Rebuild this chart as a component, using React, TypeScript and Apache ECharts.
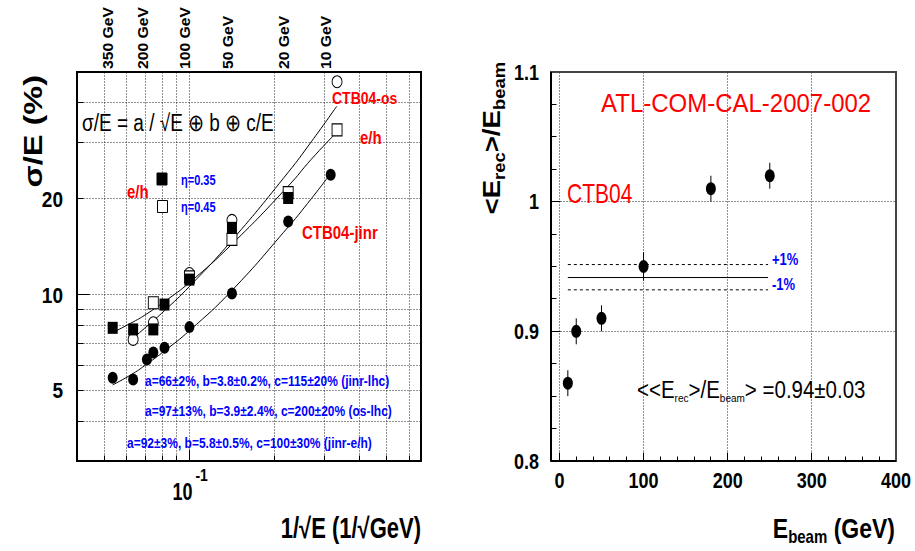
import React, { useEffect, useRef } from "react";
import * as echarts from "echarts";

// ---------------- Left panel: sigma/E (%) vs 1/sqrt(E) ----------------
// CTB04-jinr (filled circles)
const jinrX = [0.0535, 0.0632, 0.0707, 0.0745, 0.0816, 0.1, 0.1414, 0.2236, 0.3162];
const jinrY = [5.48, 5.41, 6.25, 6.57, 6.81, 7.9, 10.07, 16.97, 23.8];
// e/h eta=0.35 (filled squares)
const eh35X = [0.0535, 0.0632, 0.0745, 0.0816, 0.1, 0.1414, 0.2236];
const eh35Y = [7.86, 7.77, 7.77, 9.3, 11.14, 16.2, 20.1];
// e/h eta=0.45 (open squares)
const eh45X = [0.0745, 0.1, 0.1414, 0.2236, 0.333];
const eh45Y = [9.42, 11.36, 14.9, 20.9, 32.9];
// CTB04-os (open circles)
const osX = [0.0632, 0.0745, 0.1, 0.1414, 0.333];
const osY = [7.23, 8.15, 11.64, 17.1, 46.6];

// fitted curves
const osFitX = [0.0632, 0.0707, 0.0816, 0.1, 0.1414, 0.2236, 0.27, 0.332];
const osFitY = [7.3, 7.95, 8.9, 10.6, 14.8, 24.2, 30.2, 39.0];
const ehFitX = [0.0535, 0.0632, 0.0707, 0.0816, 0.1, 0.1414, 0.2236, 0.27, 0.3228];
const ehFitY = [7.6, 8.2, 8.7, 9.5, 10.9, 14.4, 21.9, 26.6, 31.5];
const jinrFitX = [0.0535, 0.0632, 0.0707, 0.0816, 0.1, 0.1414, 0.2236, 0.27, 0.3162];
const jinrFitY = [5.2, 5.65, 6.05, 6.65, 7.7, 10.3, 16.3, 20.0, 24.0];

// left axes
const leftXRange = [0.04, 0.66];
const leftYRange = [3, 50];
const leftXGrid = [0.05, 0.06, 0.07, 0.08, 0.09, 0.1, 0.2, 0.3, 0.4, 0.5, 0.6];
const leftYGrid = [4, 5, 6, 7, 8, 9, 10, 20, 30, 40];
const leftYLabels = [5, 10, 20];
const topEnergies = [350, 200, 100, 50, 20, 10];

const fitTexts = [
  "a=66±2%, b=3.8±0.2%, c=115±20% (jinr-lhc)",
  "a=97±13%, b=3.9±2.4%, c=200±20% (os-lhc)",
  "a=92±3%, b=5.8±0.5%, c=100±30% (jinr-e/h)",
];

// ---------------- Right panel: <Erec>/Ebeam vs Ebeam ----------------
const beamE = [10, 20, 50, 100, 180, 250];
const response = [0.86, 0.9, 0.91, 0.95, 1.01, 1.02];
const responseErr = [0.01, 0.01, 0.01, 0.011, 0.01, 0.01];
const bandX = [10, 248];
const bandMean = 0.9415;
const bandUp = 0.9515;
const bandDown = 0.932;

const rightXRange = [-10, 400];
const rightYRange = [0.8, 1.1];
const rightXMajor = [0, 100, 200, 300, 400];
const rightXLabels = ["0", "100", "200", "300", "400"];
const rightXMinor = [20, 40, 60, 80, 120, 140, 160, 180, 220, 240, 260, 280, 320, 340, 360, 380];
const rightYMajor = [0.8, 0.9, 1.0, 1.1];
const rightYLabels = ["0.8", "0.9", "1", "1.1"];
const rightYMinor = [0.825, 0.85, 0.875, 0.925, 0.95, 0.975, 1.025, 1.05, 1.075];

const FONT = '"Liberation Sans", Arial, Helvetica, sans-serif';
const fnt = (size: number, bold = false) => `${bold ? "bold " : ""}${size}px ${FONT}`;
const RED = "#ff0000";
const BLUE = "#0000ff";

function txt(x: number, y: number, s: string, size: number, o: any = {}) {
  const align = o.align || "left";
  const va = o.va || "middle";
  return {
    type: "text",
    x,
    y,
    z: 20,
    silent: true,
    scaleX: o.sx || 1,
    scaleY: o.sy || 1,
    rotation: o.rot || 0,
    style: {
      text: s,
      font: fnt(size, !!o.bold),
      fill: o.color || "#000",
      align,
      textAlign: align,
      verticalAlign: va,
      textVerticalAlign: va,
      lineHeight: o.lh,
      rich: o.rich,
    },
  };
}

function seg(x1: number, y1: number, x2: number, y2: number, o: any = {}) {
  const lw = o.lw || 1;
  const r = (v: number) => (lw % 2 === 1 ? Math.round(v - 0.5) + 0.5 : Math.round(v));
  return {
    type: "line",
    z: o.z ?? 1,
    silent: true,
    shape: { x1: r(x1), y1: r(y1), x2: r(x2), y2: r(y2) },
    style: { stroke: o.color || "#000", lineWidth: lw, lineDash: o.dash },
  };
}

export default function App() {
  const ref = useRef<HTMLDivElement>(null);

  useEffect(() => {
    const chart = echarts.init(ref.current!, null, { renderer: "svg" });
    const ellipse = "path://M0,6.5A5,6.5,0,1,1,10,6.5A5,6.5,0,1,1,0,6.5Z";
    const zip = (xs: number[], ys: number[]) => xs.map((x, i) => [x, ys[i]]);
    const hiddenAxis = { show: false, axisLine: { show: false }, axisTick: { show: false }, axisLabel: { show: false }, splitLine: { show: false } };
    const fitLine = (xs: number[], ys: number[]) => ({
      type: "line",
      xAxisIndex: 0,
      yAxisIndex: 0,
      data: zip(xs, ys),
      smooth: true,
      showSymbol: false,
      symbol: "none",
      silent: true,
      lineStyle: { color: "#000", width: 1 },
      z: 3,
    });
    const bandLine = (y: number, dashed: boolean) => ({
      type: "line",
      xAxisIndex: 1,
      yAxisIndex: 1,
      data: bandX.map((x) => [x, y]),
      symbol: "none",
      silent: true,
      lineStyle: { color: "#000", width: 1, type: dashed ? [3, 3] : "solid" },
      z: 3,
    });

    const option: any = {
      animation: false,
      backgroundColor: "#ffffff",
      grid: [
        { left: 77, top: 72, width: 344, height: 389, outerBoundsMode: "none" },
        { left: 551, top: 72, width: 345, height: 389, outerBoundsMode: "none" },
      ],
      xAxis: [
        { gridIndex: 0, type: "log", logBase: 10, min: leftXRange[0], max: leftXRange[1], ...hiddenAxis },
        { gridIndex: 1, type: "value", min: rightXRange[0], max: rightXRange[1], ...hiddenAxis },
      ],
      yAxis: [
        { gridIndex: 0, type: "log", logBase: 10, min: leftYRange[0], max: leftYRange[1], ...hiddenAxis },
        { gridIndex: 1, type: "value", min: rightYRange[0], max: rightYRange[1], ...hiddenAxis },
      ],
      series: [
        fitLine(osFitX, osFitY),
        fitLine(ehFitX, ehFitY),
        fitLine(jinrFitX, jinrFitY),
        {
          type: "scatter", xAxisIndex: 0, yAxisIndex: 0, data: zip(osX, osY), silent: true,
          symbol: ellipse, symbolSize: [10, 12],
          itemStyle: { color: "#ffffff", borderColor: "#000", borderWidth: 1, opacity: 1 }, z: 4,
        },
        {
          type: "scatter", xAxisIndex: 0, yAxisIndex: 0, data: zip(eh45X, eh45Y), silent: true,
          symbol: "rect", symbolSize: [10, 12],
          itemStyle: { color: "#ffffff", borderColor: "#000", borderWidth: 1, opacity: 1 }, z: 5,
        },
        {
          type: "scatter", xAxisIndex: 0, yAxisIndex: 0, data: zip(eh35X, eh35Y), silent: true,
          symbol: "rect", symbolSize: [10, 12],
          itemStyle: { color: "#000", opacity: 1 }, z: 6,
        },
        {
          type: "scatter", xAxisIndex: 0, yAxisIndex: 0, data: zip(jinrX, jinrY), silent: true,
          symbol: ellipse, symbolSize: [10, 12],
          itemStyle: { color: "#000", opacity: 1 }, z: 6,
        },
        bandLine(bandUp, true),
        bandLine(bandMean, false),
        bandLine(bandDown, true),
        {
          type: "custom", xAxisIndex: 1, yAxisIndex: 1, silent: true, z: 4,
          data: beamE.map((e, i) => [e, response[i] - responseErr[i], response[i] + responseErr[i]]),
          renderItem: (_p: any, api: any) => {
            const a = api.coord([api.value(0), api.value(1)]);
            const b = api.coord([api.value(0), api.value(2)]);
            return {
              type: "line",
              shape: { x1: a[0], y1: a[1], x2: b[0], y2: b[1] },
              style: { stroke: "#000", lineWidth: 1 },
            };
          },
        },
        {
          type: "scatter", xAxisIndex: 1, yAxisIndex: 1, data: zip(beamE, response), silent: true,
          symbol: ellipse, symbolSize: [10, 13],
          itemStyle: { color: "#000", opacity: 1 }, z: 6,
        },
      ],
    };
    chart.setOption(option);

    const L = (x: number, y: number) => chart.convertToPixel({ gridIndex: 0 }, [x, y]) as number[];
    const R = (x: number, y: number) => chart.convertToPixel({ gridIndex: 1 }, [x, y]) as number[];
    const els: any[] = [];
    const dot = [1, 2];

    // ----- left panel frame, grid, ticks, labels -----
    const lTL = L(leftXRange[0], leftYRange[1]);
    const lBR = L(leftXRange[1], leftYRange[0]);
    leftXGrid.forEach((v) => {
      const p = L(v, leftYRange[0]);
      els.push(seg(p[0], lTL[1], p[0], lBR[1], { dash: dot, color: "#222" }));
      const len = v === 0.1 ? 12 : 6;
      els.push(seg(p[0], lBR[1], p[0], lBR[1] - len, { z: 6 }));
    });
    leftYGrid.forEach((v) => {
      const p = L(leftXRange[0], v);
      els.push(seg(lTL[0], p[1], lBR[0], p[1], { dash: dot, color: "#222" }));
      const len = v === 10 ? 12 : 6;
      els.push(seg(lTL[0], p[1], lTL[0] + len, p[1], { z: 6 }));
    });
    els.push({
      type: "rect", z: 8, silent: true,
      shape: { x: Math.round(lTL[0]), y: Math.round(lTL[1]), width: Math.round(lBR[0] - lTL[0]), height: Math.round(lBR[1] - lTL[1]) },
      style: { fill: "none", stroke: "#000", lineWidth: 2 },
    });
    leftYLabels.forEach((v) => {
      const p = L(leftXRange[0], v);
      els.push(txt(lTL[0] - 14, p[1], String(v), 19, { bold: true, align: "right", sy: 1.15 }));
    });
    {
      const p = L(0.1, leftYRange[0]);
      els.push(txt(p[0] - 7, 492, "10", 18, { bold: true, align: "center", sy: 1.3 }));
      els.push(txt(p[0] + 6, 475, "-1", 14, { bold: true, align: "left", sy: 1.2 }));
    }
    topEnergies.forEach((E) => {
      const p = L(1 / Math.sqrt(E), leftYRange[1]);
      els.push(txt(p[0] - 4, 69, `${E} GeV`, 14, { bold: true, align: "left", rot: Math.PI / 2, sx: 1.12 }));
    });
    // left axis titles
    els.push(txt(33, 75, "σ/E (%)", 25, { bold: true, align: "right", rot: Math.PI / 2, sx: 1.3 }));
    els.push(txt(421, 528, "1/√E (1/√GeV)", 22, { bold: true, align: "right", sy: 1.3 }));
    // left annotations
    els.push(txt(82, 123, "σ/E = a / √E ⊕ b ⊕ c/E", 19, { sy: 1.25 }));
    els.push(txt(332, 98, "CTB04-os", 14, { bold: true, color: RED, sy: 1.2 }));
    els.push(txt(360, 138, "e/h", 15, { bold: true, color: RED, sy: 1.2 }));
    els.push(txt(302, 233, "CTB04-jinr", 15, { bold: true, color: RED, sy: 1.2 }));
    els.push(txt(127, 192.5, "e/h", 15, { bold: true, color: RED, sy: 1.2 }));
    els.push(txt(181, 180, "η=0.35", 11, { bold: true, color: BLUE, sy: 1.3 }));
    els.push(txt(181, 206.5, "η=0.45", 11, { bold: true, color: BLUE, sy: 1.3 }));
    els.push({ type: "rect", z: 9, silent: true, shape: { x: 157, y: 173, width: 10, height: 12 }, style: { fill: "#000", stroke: "#000", lineWidth: 1 } });
    els.push({ type: "rect", z: 9, silent: true, shape: { x: 157.5, y: 200.5, width: 10, height: 12 }, style: { fill: "#fff", stroke: "#000", lineWidth: 1 } });
    els.push(txt(145, 381, fitTexts[0], 12, { bold: true, color: BLUE, sy: 1.2 }));
    els.push(txt(145, 411.5, fitTexts[1], 12, { bold: true, color: BLUE, sy: 1.2 }));
    els.push(txt(127, 443, fitTexts[2], 12, { bold: true, color: BLUE, sy: 1.2 }));

    // ----- right panel frame, grid, ticks, labels -----
    const rTL = R(rightXRange[0], rightYRange[1]);
    const rBR = R(rightXRange[1], rightYRange[0]);
    rightXMajor.forEach((v, i) => {
      const p = R(v, rightYRange[0]);
      if (v < rightXRange[1]) {
        els.push(seg(p[0], rTL[1], p[0], rBR[1], { dash: dot, color: "#222" }));
        els.push(seg(p[0], rBR[1], p[0], rBR[1] - 9, { z: 6 }));
      }
      els.push(txt(p[0], 480, rightXLabels[i], 18, { bold: true, align: "center", sy: 1.2 }));
    });
    rightXMinor.forEach((v) => {
      const p = R(v, rightYRange[0]);
      els.push(seg(p[0], rBR[1], p[0], rBR[1] - 5, { z: 6 }));
    });
    rightYMajor.forEach((v, i) => {
      const p = R(rightXRange[0], v);
      if (v > rightYRange[0] && v < rightYRange[1]) {
        els.push(seg(rTL[0], p[1], rBR[0], p[1], { dash: dot, color: "#222" }));
        els.push(seg(rTL[0], p[1], rTL[0] + 9, p[1], { z: 6 }));
      }
      els.push(txt(rTL[0] - 12, p[1], rightYLabels[i], 18, { bold: true, align: "right", sy: 1.2 }));
    });
    rightYMinor.forEach((v) => {
      const p = R(rightXRange[0], v);
      els.push(seg(rTL[0], p[1], rTL[0] + 5, p[1], { z: 6 }));
    });
    els.push({
      type: "rect", z: 8, silent: true,
      shape: { x: Math.round(rTL[0]), y: Math.round(rTL[1]), width: Math.round(rBR[0] - rTL[0]), height: Math.round(rBR[1] - rTL[1]) },
      style: { fill: "none", stroke: "#444", lineWidth: 2 },
    });
    els.push(seg(rTL[0], rTL[1], rTL[0], rBR[1], { lw: 2, z: 9 }));
    els.push(seg(rTL[0], rBR[1], rBR[0], rBR[1], { lw: 2, z: 9 }));

    // right axis titles
    els.push(
      txt(492, 62, "<E{s|rec}>/E{s|beam}", 24, {
        bold: true, align: "right", rot: Math.PI / 2, sx: 1.15, lh: 30,
        rich: { s: { font: fnt(16, true), lineHeight: 10, verticalAlign: "bottom", fill: "#000" } },
      })
    );
    els.push(
      txt(895, 528, "E{s|beam} (GeV)", 23, {
        bold: true, align: "right", sy: 1.2, lh: 30,
        rich: { s: { font: fnt(15, true), lineHeight: 8, verticalAlign: "bottom", fill: "#000" } },
      })
    );
    // right annotations
    els.push(txt(601, 103, "ATL-COM-CAL-2007-002", 24, { color: RED, sy: 1.1 }));
    els.push(txt(567, 193, "CTB04", 21, { color: RED, sy: 1.3 }));
    els.push(txt(772, 259, "+1%", 13, { bold: true, color: BLUE, sy: 1.25 }));
    els.push(txt(772, 284, "-1%", 13, { bold: true, color: BLUE, sy: 1.25 }));
    els.push(
      txt(637, 390, "<<E{s|rec}>/E{s|beam}> =0.94±0.03", 20.5, {
        sy: 1.15, lh: 24,
        rich: { s: { font: fnt(10), lineHeight: 8, verticalAlign: "bottom", fill: "#000" } },
      })
    );

    chart.setOption({ graphic: { elements: els } });
    return () => chart.dispose();
  }, []);

  return (
    <div
      ref={ref}
      style={{ position: "fixed", left: 0, top: 0, width: 915, height: 551, background: "#fff" }}
    />
  );
}
